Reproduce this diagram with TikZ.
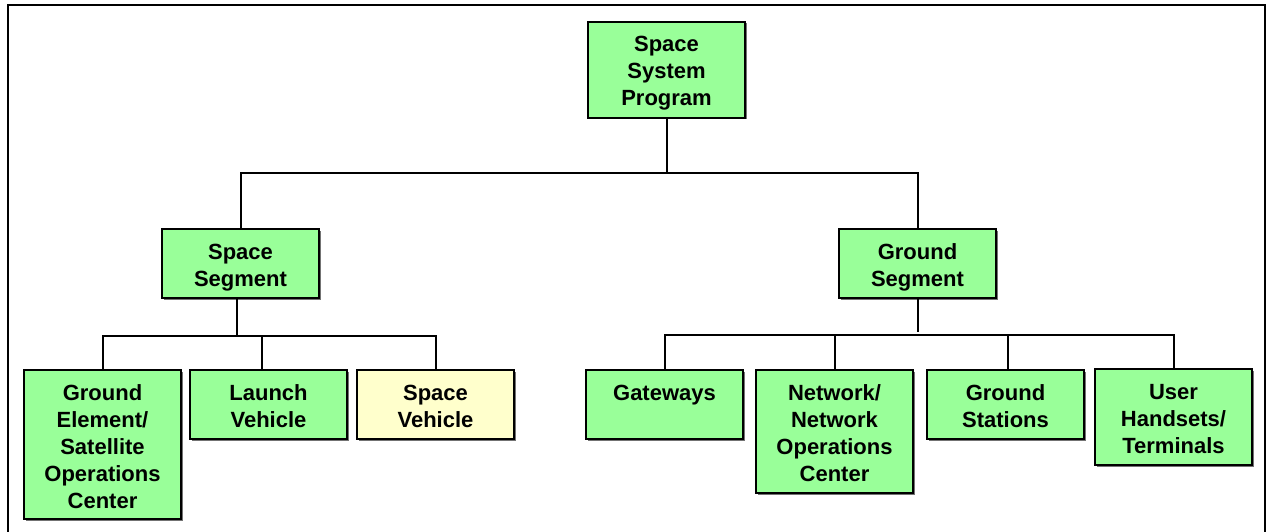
\documentclass[tikz,border=0pt]{standalone}
\usepackage{fontspec}
\setmainfont{Liberation Sans}
\usetikzlibrary{calc,shadows}
\definecolor{bgreen}{RGB}{153,255,153}
\definecolor{byellow}{RGB}{255,255,204}
\newcommand{\bxt}[2]{\parbox[c][#1pt][t]{157pt}{\centering\fontsize{22pt}{27pt}\selectfont\bfseries\rule{0pt}{30pt}#2}}
\tikzset{
  wbsbox/.style={draw=black, line width=2pt, fill=bgreen, inner sep=0pt, anchor=north west,
    drop shadow={shadow xshift=1.5pt, shadow yshift=-1.5pt, fill=black!55, opacity=1}},
  svbox/.style={wbsbox, fill=byellow},
  conn/.style={draw=black, line width=2pt},
  frameline/.style={draw=black, line width=2.2pt}
}
\begin{document}
\begin{tikzpicture}[x=1pt,y=-1pt]
\useasboundingbox (0,0) rectangle (1266,532);
\draw[frameline] (8,532) -- (8,5) -- (1265,5) -- (1265,532);

\node[wbsbox] (ssp) at (587,21) {\bxt{96}{Space\\System\\Program}};
\node[wbsbox] (ss)  at (161,228) {\bxt{69}{Space\\Segment}};
\node[wbsbox] (gs)  at (838,228) {\bxt{69}{Ground\\Segment}};

\node[wbsbox] (ge)  at (23,369)  {\bxt{149}{Ground\\Element/\\Satellite\\Operations\\Center}};
\node[wbsbox] (lv)  at (189,369) {\bxt{69}{Launch\\Vehicle}};
\node[svbox]  (sv)  at (356,369) {\bxt{69}{Space\\Vehicle}};

\node[wbsbox] (gw)  at (585,369) {\bxt{69}{Gateways}};
\node[wbsbox] (nw)  at (755,369) {\bxt{123}{Network/\\Network\\Operations\\Center}};
\node[wbsbox] (gst) at (926,369) {\bxt{69}{Ground\\Stations}};
\node[wbsbox] (uh)  at (1094,368) {\bxt{96}{User\\Handsets/\\Terminals}};

% level 1
\path (ssp.south) ++(0,54) coordinate (b1);
\draw[conn] (ssp.south) -- (b1);
\draw[conn] (ss.north) |- (b1);
\draw[conn] (gs.north) |- (b1);

% level 2 (space segment)
\path ([xshift=-3.5pt]ss.south) ++(0,37) coordinate (b2);
\draw[conn] ([xshift=-3.5pt]ss.south) -- (b2);
\draw[conn] (ge.north) |- (b2);
\draw[conn] (sv.north) |- (b2);
\draw[conn] ([xshift=-7pt]lv.north) -- ++(0,-34);

% level 2 (ground segment)
\path (gs.south) ++(0,36) coordinate (b3);
\draw[conn] (gs.south) -- ++(0,33);
\draw[conn] (gw.north) |- (b3);
\draw[conn] (uh.north) |- (b3);
\draw[conn] (nw.north) -- (nw.north |- b3);
\draw[conn] ([xshift=2pt]gst.north) -- ([xshift=2pt]gst.north |- b3);
\end{tikzpicture}
\end{document}
